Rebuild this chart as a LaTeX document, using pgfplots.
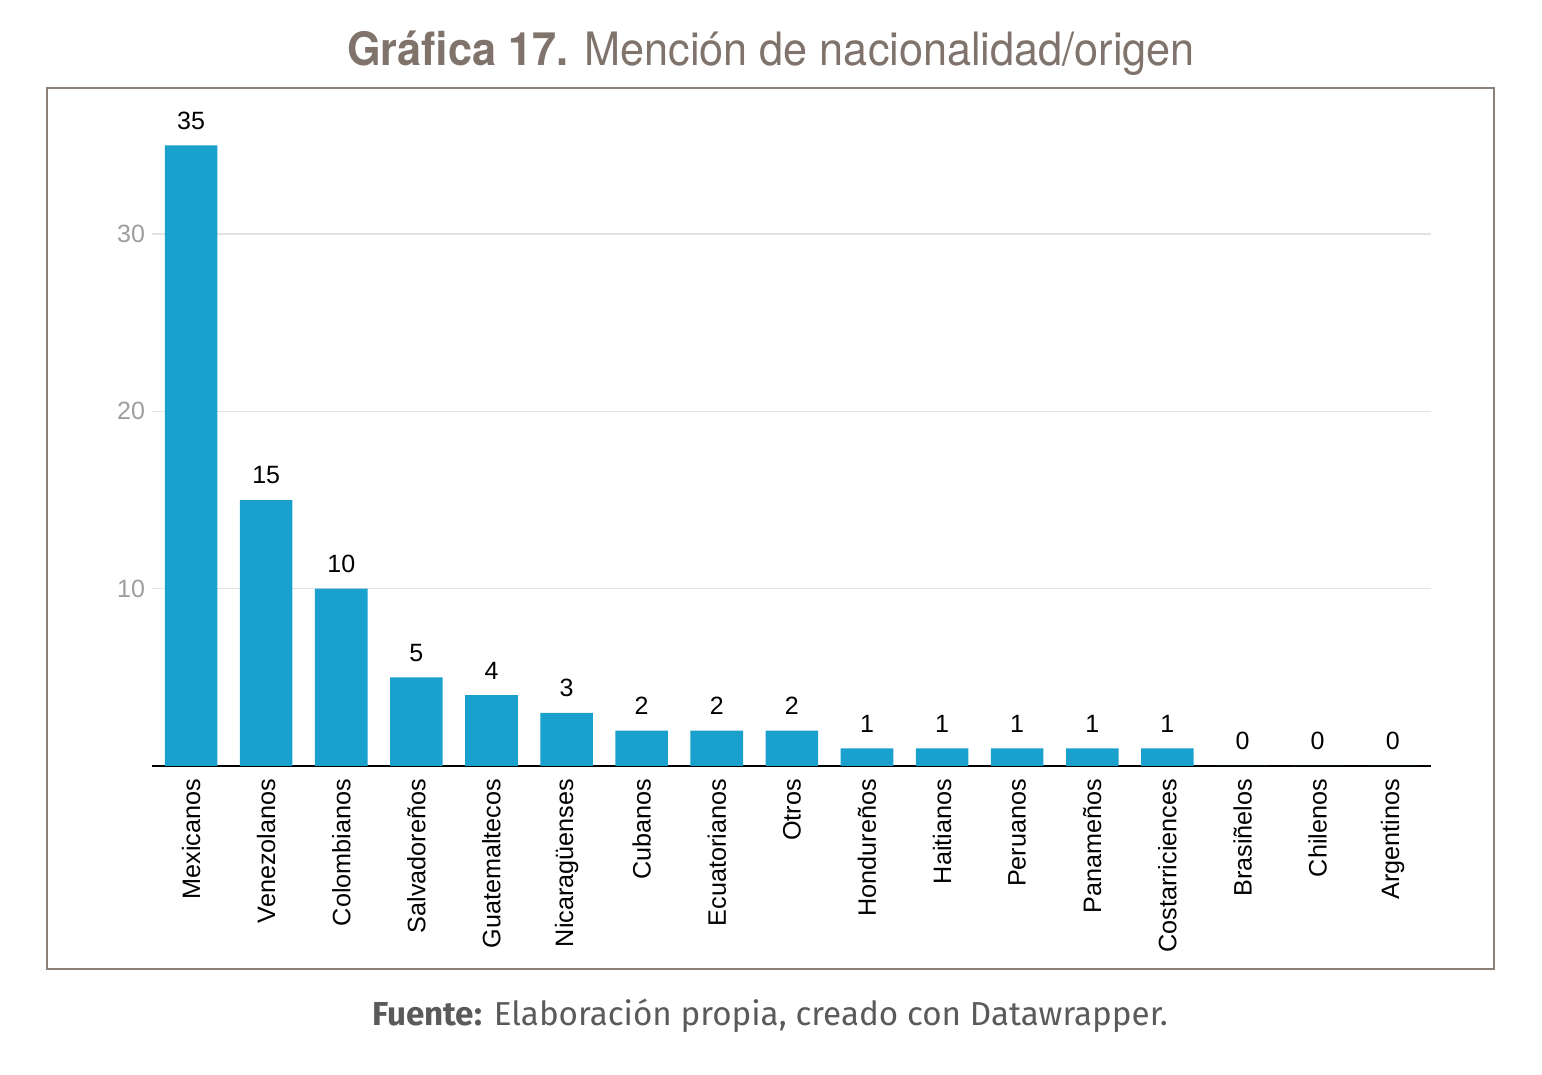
\documentclass[border=0pt]{standalone}
\usepackage{fontspec}
\setmainfont{Liberation Sans}
\newfontfamily\titlefont{TeX Gyre Heros}
\newfontfamily\footfont{Fira Sans}
\usepackage{pgfplots}
\pgfplotsset{compat=1.18}
\definecolor{barblue}{HTML}{1AA0CD}
\definecolor{titlecol}{HTML}{7F736B}
\definecolor{framecol}{HTML}{8C8179}
\definecolor{footcol}{HTML}{5A5A5A}
\definecolor{gridgrey}{HTML}{E2E2E2}
\definecolor{tickgrey}{HTML}{9E9E9E}
\begin{document}
\begin{tikzpicture}
\path[use as bounding box] (0,0) rectangle (771pt,537.5pt);
\draw[framecol, line width=1pt] (23.5pt,53pt) rectangle (747pt,493.5pt);
\node[titlecol, anchor=base, font=\titlefont\fontsize{23}{27}\selectfont, xscale=0.94] at (385.5pt,504.5pt) {\textbf{Gráfica 17.} Mención de nacionalidad/origen};
\node[footcol, anchor=base, font=\footfont\fontsize{16.6}{19}\selectfont] at (385pt,24.5pt) {\textbf{Fuente:} Elaboración propia, creado con Datawrapper.};
\begin{axis}[
  at={(76pt,154.5pt)}, anchor=south west,
  scale only axis, width=639.5pt, height=310.3pt,
  xmin=-0.52, xmax=16.51, ymin=0, ymax=35,
  axis lines*=left,
  y axis line style={draw=none},
  x axis line style={black, line width=1pt},
  major tick length=0pt,
  /pgf/number format/assume math mode=true,
  ytick={10,20,30},
  ymajorgrids,
  grid style={gridgrey, line width=0.6pt},
  yticklabel style={font=\fontsize{12.5}{14}\selectfont, text=tickgrey},
  xtick={0,...,16},
  xticklabels={Mexicanos,Venezolanos,Colombianos,Salvadoreños,Guatemaltecos,Nicaragüenses,Cubanos,Ecuatorianos,Otros,Hondureños,Haitianos,Peruanos,Panameños,Costarriciences,Brasiñelos,Chilenos,Argentinos},
  xticklabel style={rotate=90, anchor=east, font=\fontsize{12.6}{14}\selectfont},
  xticklabel shift=3pt,
  clip=false,
  nodes near coords,
  every node near coord/.append style={font=\fontsize{12.5}{14}\selectfont, text=black, yshift=4.5pt},
]
\addplot[ybar, bar width=0.7, fill=barblue, draw=none] coordinates {
(0,35) (1,15) (2,10) (3,5) (4,4) (5,3) (6,2) (7,2) (8,2) (9,1) (10,1) (11,1) (12,1) (13,1) (14,0) (15,0) (16,0)
};
\end{axis}
\end{tikzpicture}
\end{document}
